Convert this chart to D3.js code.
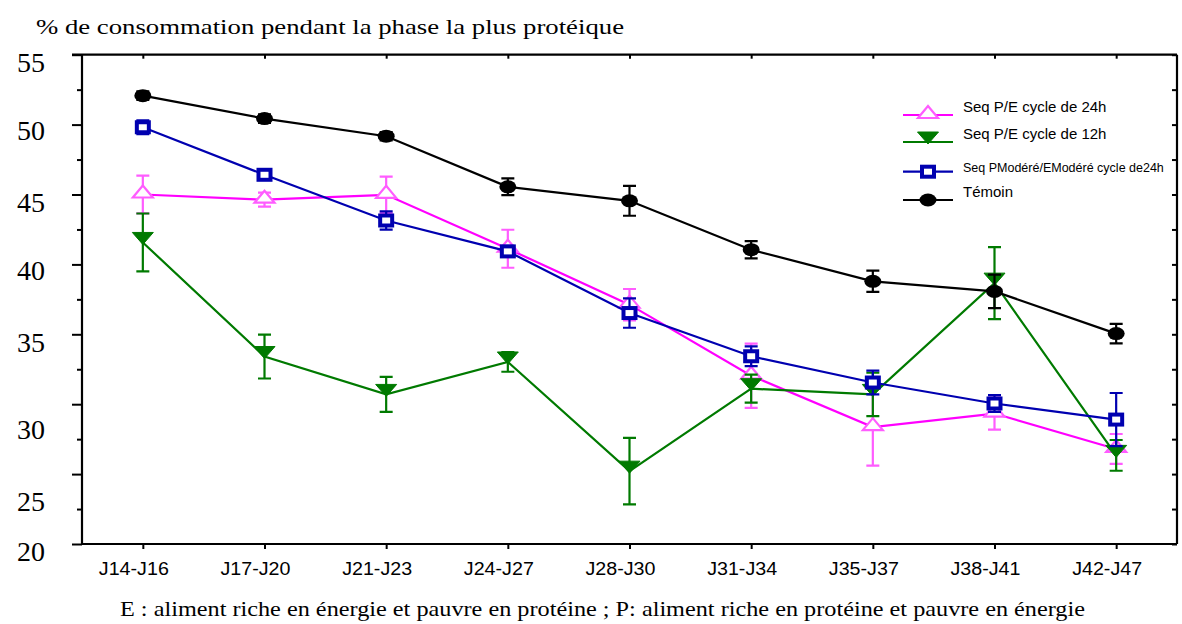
<!DOCTYPE html>
<html>
<head>
<meta charset="utf-8">
<script src="https://cdn.jsdelivr.net/npm/d3@7/dist/d3.min.js"></script>
<style>
  html, body { margin: 0; padding: 0; background: #fff; }
  svg { display: block; }
  .serif { font-family: "Liberation Serif", "Times New Roman", Times, serif; }
  .sans { font-family: "Liberation Sans", Arial, Helvetica, sans-serif; }
</style>
</head>
<body>
<svg id="chart" width="1182" height="624"></svg>
<script>
// ---------- data ----------
const categories = ["J14-J16","J17-J20","J21-J23","J24-J27","J28-J30","J31-J34","J35-J37","J38-J41","J42-J47"];

const seq24     = [45.0, 44.63, 44.98, 41.12, 37.12, 32.04, 28.36, 29.33, 26.8];
const seq24Err  = [1.35, 0.5, 1.3, 1.36, 1.12, 2.3, 2.75, 1.15, 1.07];

const seq12     = [41.57, 33.41, 30.7, 33.02, 25.21, 31.11, 30.7, 38.66, 26.34];
const seq12Err  = [2.07, 1.57, 1.25, 0.7, 2.38, 1.0, 1.55, 2.57, 1.1];

const seqMod    = [49.81, 46.41, 43.14, 40.93, 36.52, 33.43, 31.55, 30.05, 28.9];
const seqModErr = [0.5, 0.3, 0.65, 0.4, 1.05, 0.7, 0.85, 0.6, 1.9];

const temoin    = [52.07, 50.43, 49.17, 45.55, 44.55, 41.05, 38.79, 38.07, 35.05];
const temoinErr = [0.3, 0.3, 0.3, 0.6, 1.07, 0.62, 0.76, 1.2, 0.7];

const yTicks = [20, 25, 30, 35, 40, 45, 50, 55];
const yMinorTicks = [22.5, 27.5, 32.5, 37.5, 42.5, 47.5, 52.5];

const seriesNames = ["Seq P/E cycle de 24h", "Seq P/E cycle de 12h", "Seq PModéré/EModéré cycle de24h", "Témoin"];
const titleText = "% de consommation pendant la phase la plus protéique";
const noteText = "E : aliment riche en énergie et pauvre en protéine ; P: aliment riche en protéine et pauvre en énergie";

// ---------- layout ----------
const svg = d3.select("#chart");
const L = 82, R = 1177, T = 54.7, B = 544;

const x = d3.scalePoint().domain(categories).range([L, R]).padding(0.5);
const y = d3.scaleLinear().domain([20, 55]).range([B, T]);

const series = [
  { name: seriesNames[0], values: seq24,  err: seq24Err,  line: "#ff00ff", mark: "#ff5cff", shape: "triUp" },
  { name: seriesNames[1], values: seq12,  err: seq12Err,  line: "#007a00", mark: "#007a00", shape: "triDown" },
  { name: seriesNames[2], values: seqMod, err: seqModErr, line: "#0000b0", mark: "#0000b0", shape: "square" },
  { name: seriesNames[3], values: temoin, err: temoinErr, line: "#000000", mark: "#000000", shape: "ellipse" }
];

// ---------- frame & axes ----------
const yAxisL = d3.axisLeft(y).tickValues(yTicks).tickSize(10).tickFormat("");
const gL = svg.append("g").attr("transform", `translate(${L},0)`).call(yAxisL);
const yAxisLm = d3.axisLeft(y).tickValues(yMinorTicks).tickSize(5).tickFormat("");
const gLm = svg.append("g").attr("transform", `translate(${L},0)`).call(yAxisLm);
gLm.select(".domain").remove();

const yAxisR = d3.axisLeft(y).tickValues(yTicks.concat(yMinorTicks)).tickSize(5).tickFormat("");
const gR = svg.append("g").attr("transform", `translate(${R},0)`).call(yAxisR);

const xAxisB = d3.axisBottom(x).tickSize(5).tickFormat("");
const gB = svg.append("g").attr("transform", `translate(0,${B})`).call(xAxisB);
const xAxisT = d3.axisBottom(x).tickSize(4).tickFormat("");
const gT = svg.append("g").attr("transform", `translate(0,${T})`).call(xAxisT);

[gL, gLm, gR, gB, gT].forEach(g => {
  g.selectAll(".domain").attr("stroke", "#000").attr("stroke-width", 2.2);
  g.selectAll(".tick line").attr("stroke", "#000").attr("stroke-width", 2);
});
gR.select(".domain").attr("d", `M0,${T}V${B}`);
gL.select(".domain").attr("d", `M0,${T}V${B}`);
gB.select(".domain").attr("d", `M${L},0H${R}`);
gT.select(".domain").attr("d", `M${L - 10},0H${R}`);

// y labels (source places lower labels somewhat below their ticks)
const labelNudge = {20: 7, 25: 27, 30: 25, 35: 8, 40: 6, 45: 8, 50: 6, 55: 8};
svg.append("g").selectAll("text").data(yTicks).join("text")
  .attr("class", "serif")
  .attr("x", 45)
  .attr("y", d => y(d) + labelNudge[d])
  .attr("text-anchor", "end")
  .attr("dominant-baseline", "central")
  .attr("font-size", 28)
  .text(d => d);

// x labels
svg.append("g").selectAll("text").data(categories).join("text")
  .attr("class", "sans")
  .attr("x", d => x(d) - 9)
  .attr("y", 575)
  .attr("text-anchor", "middle")
  .attr("font-size", 18)
  .attr("textLength", 70)
  .attr("lengthAdjust", "spacingAndGlyphs")
  .text(d => d);

// title
svg.append("text")
  .attr("class", "serif")
  .attr("x", 36).attr("y", 34)
  .attr("font-size", 22)
  .attr("textLength", 588).attr("lengthAdjust", "spacingAndGlyphs")
  .text(titleText);

// footnote
svg.append("text")
  .attr("class", "serif")
  .attr("x", 120).attr("y", 616)
  .attr("font-size", 22)
  .attr("textLength", 965).attr("lengthAdjust", "spacingAndGlyphs")
  .text(noteText);

// ---------- marks ----------
function drawMarker(g, shape, cx, cy, color) {
  if (shape === "triUp") {
    g.append("path").attr("d", `M${cx},${cy - 9}L${cx + 10},${cy + 3}L${cx - 10},${cy + 3}Z`)
      .attr("fill", "#fff").attr("stroke", color).attr("stroke-width", 2.2);
  } else if (shape === "triDown") {
    g.append("path").attr("d", `M${cx - 10.5},${cy - 10}L${cx + 10.5},${cy - 10}L${cx},${cy + 2}Z`)
      .attr("fill", color).attr("stroke", color).attr("stroke-width", 1);
  } else if (shape === "square") {
    g.append("rect").attr("x", cx - 6).attr("y", cy - 5).attr("width", 12).attr("height", 10)
      .attr("fill", "#fff").attr("stroke", color).attr("stroke-width", 4);
  } else {
    g.append("ellipse").attr("cx", cx).attr("cy", cy).attr("rx", 8.5).attr("ry", 6.5)
      .attr("fill", color);
  }
}

const line = d3.line().x(d => x(d.c)).y(d => y(d.v));

series.forEach(s => {
  const g = svg.append("g");
  const pts = categories.map((c, i) => ({ c, v: s.values[i], e: s.err[i] }));
  pts.forEach(p => {
    const cx = x(p.c), y1 = y(p.v + p.e), y2 = y(p.v - p.e);
    g.append("path")
      .attr("d", `M${cx},${y1}V${y2}M${cx - 6.5},${y1}H${cx + 6.5}M${cx - 6.5},${y2}H${cx + 6.5}`)
      .attr("stroke", s.mark).attr("stroke-width", 2.2).attr("fill", "none");
  });
  g.append("path").datum(pts).attr("d", line)
    .attr("fill", "none").attr("stroke", s.line).attr("stroke-width", 2.2);
  pts.forEach(p => drawMarker(g, s.shape, x(p.c), y(p.v), s.mark));
});

// ---------- legend ----------
const legendRows = [115, 142, 171.7, 200];
const legendSize = [15, 15, 12.5, 15];
const lg = svg.append("g");
series.forEach((s, i) => {
  const ly = legendRows[i];
  lg.append("line").attr("x1", 903).attr("x2", 953).attr("y1", ly).attr("y2", ly)
    .attr("stroke", s.line).attr("stroke-width", 2.2);
  drawMarker(lg, s.shape, 928, ly, s.mark);
  lg.append("text")
    .attr("class", "sans")
    .attr("x", 963).attr("y", ly - (i === 2 ? 0 : 3))
    .attr("font-size", legendSize[i])
    .text(s.name);
});
</script>
</body>
</html>
